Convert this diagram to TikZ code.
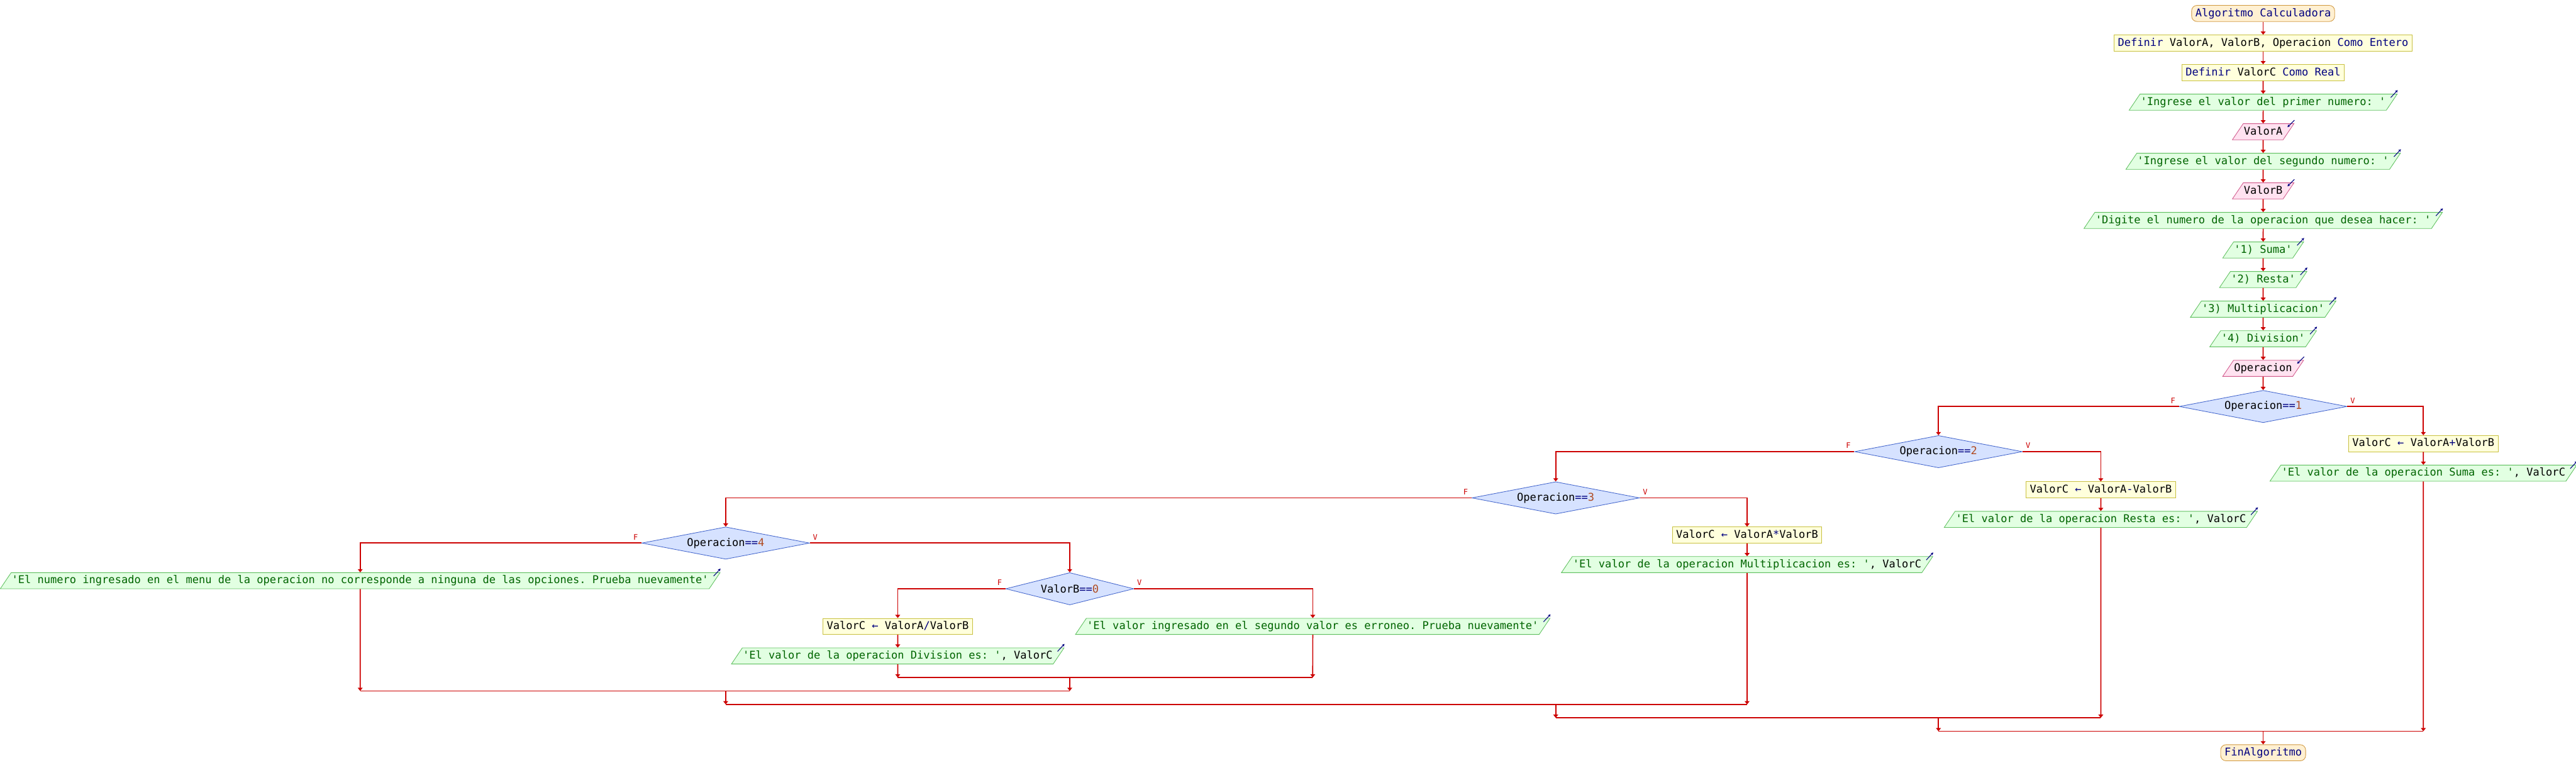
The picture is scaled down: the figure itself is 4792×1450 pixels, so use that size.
\documentclass[tikz,border=0pt]{standalone}
\usepackage{fontspec}
\setmonofont{DejaVu Sans Mono}
\usetikzlibrary{shapes.geometric,arrows.meta}
\definecolor{flujo}{HTML}{CC0000}
\definecolor{kwazul}{HTML}{000080}
\definecolor{strverde}{HTML}{006400}
\definecolor{numcafe}{HTML}{B04A20}
\definecolor{termfondo}{HTML}{FFF0D2}
\definecolor{termborde}{HTML}{D09840}
\definecolor{procfondo}{HTML}{FFFFDC}
\definecolor{procborde}{HTML}{C8C040}
\definecolor{salfondo}{HTML}{E2FFE2}
\definecolor{salborde}{HTML}{60C060}
\definecolor{entfondo}{HTML}{FFE2F0}
\definecolor{entborde}{HTML}{D05A8C}
\definecolor{decfondo}{HTML}{D6E2FF}
\definecolor{decborde}{HTML}{4466CC}
\newcommand{\pkw}[1]{\textcolor{kwazul}{#1}}
\newcommand{\pstr}[1]{\textcolor{strverde}{#1}}
\newcommand{\pnum}[1]{\textcolor{numcafe}{#1}}
\begin{document}
\begin{tikzpicture}[x=0.01cm,y=-0.01cm,
	every node/.style={font=\ttfamily\fontsize{5.67}{6.8}\selectfont},
	caja/.style={line width=0.01cm,text height=0.15cm,text depth=0.04cm,inner ysep=0.055cm},
	term/.style={caja,draw=termborde,fill=termfondo,rounded corners=0.1cm,inner xsep=0.07cm,text=kwazul},
	proc/.style={caja,draw=procborde,fill=procfondo,inner xsep=0.07cm},
	salida/.style={caja,trapezium,trapezium left angle=56,trapezium right angle=124,draw=salborde,fill=salfondo,inner xsep=0.01cm},
	entrada/.style={salida,draw=entborde,fill=entfondo},
	decision/.style={diamond,aspect=6,line width=0.01cm,draw=decborde,fill=decfondo,minimum height=0.6cm,inner sep=0pt},
	flecha/.style={draw=flujo,line width=0.02cm,-{Triangle[length=0.06cm,width=0.09cm]}},
	linea/.style={draw=flujo,line width=0.02cm},
	marca/.style={draw=kwazul,line width=0.012cm,-{Stealth[length=0.05cm,width=0.05cm]}},
	etiq/.style={font=\ttfamily\fontsize{4}{5}\selectfont,text=flujo,inner sep=0pt}]
	\useasboundingbox (0,0) rectangle (4792,1450);
	% secuencia principal
	\node[term] (inicio) at (4210,25) {Algoritmo Calculadora};
	\node[proc] (defab) at (4210,80) {\pkw{Definir} ValorA, ValorB, Operacion \pkw{Como Entero}};
	\node[proc] (defc) at (4210,135) {\pkw{Definir} ValorC \pkw{Como Real}};
	\node[salida] (msga) at (4210,190) {\pstr{'Ingrese el valor del primer numero: '}};
	\node[entrada] (leea) at (4210,245) {ValorA};
	\node[salida] (msgb) at (4210,300) {\pstr{'Ingrese el valor del segundo numero: '}};
	\node[entrada] (leeb) at (4210,355) {ValorB};
	\node[salida] (msgop) at (4210,410) {\pstr{'Digite el numero de la operacion que desea hacer: '}};
	\node[salida] (menu1) at (4210,465) {\pstr{'1) Suma'}};
	\node[salida] (menu2) at (4210,520) {\pstr{'2) Resta'}};
	\node[salida] (menu3) at (4210,575) {\pstr{'3) Multiplicacion'}};
	\node[salida] (menu4) at (4210,630) {\pstr{'4) Division'}};
	\node[entrada] (leeop) at (4210,685) {Operacion};
	% decisiones
	\node[decision,minimum width=3.12cm] (op1) at (4210,756) {Operacion\pkw{==}\pnum{1}};
	\node[proc] (suma) at (4508,825) {ValorC \pkw{←} ValorA\pkw{+}ValorB};
	\node[salida] (msgsuma) at (4508,880) {\pstr{'El valor de la operacion Suma es: '}, ValorC};
	\node[decision,minimum width=3.12cm] (op2) at (3606,840) {Operacion\pkw{==}\pnum{2}};
	\node[proc] (resta) at (3908,911) {ValorC \pkw{←} ValorA\pkw{-}ValorB};
	\node[salida] (msgresta) at (3908,966) {\pstr{'El valor de la operacion Resta es: '}, ValorC};
	\node[decision,minimum width=3.12cm] (op3) at (2894,926) {Operacion\pkw{==}\pnum{3}};
	\node[proc] (mult) at (3250,995) {ValorC \pkw{←} ValorA\pkw{*}ValorB};
	\node[salida] (msgmult) at (3250,1050) {\pstr{'El valor de la operacion Multiplicacion es: '}, ValorC};
	\node[decision,minimum width=3.12cm] (op4) at (1350,1010) {Operacion\pkw{==}\pnum{4}};
	\node[salida] (msgerr) at (670,1080) {\pstr{'El numero ingresado en el menu de la operacion no corresponde a ninguna de las opciones. Prueba nuevamente'}};
	\node[decision,minimum width=2.38cm] (cero) at (1990,1095) {ValorB\pkw{==}\pnum{0}};
	\node[proc] (divi) at (1670,1165) {ValorC \pkw{←} ValorA\pkw{/}ValorB};
	\node[salida] (msgdiv) at (1670,1220) {\pstr{'El valor de la operacion Division es: '}, ValorC};
	\node[salida] (msgcero) at (2442,1165) {\pstr{'El valor ingresado en el segundo valor es erroneo. Prueba nuevamente'}};
	\node[term] (fin) at (4210,1400) {FinAlgoritmo};
	% etiquetas F / V
	\foreach \d in {op1,op2,op3,op4,cero}{
		\node[etiq] (f\d) at ([shift={(-11,-11)}]\d.west) {F};
		\node[etiq] (v\d) at ([shift={(10,-11)}]\d.east) {V};
	}
	% marcas de entrada y salida
	\foreach \n in {msga,msgb,msgop,menu1,menu2,menu3,menu4,msgsuma,msgresta,msgmult,msgerr,msgdiv,msgcero}
		\draw[marca] ([shift={(-13,7)}]\n.top right corner) -- ++(13,-14);
	\foreach \n in {leea,leeb,leeop}
		\draw[marca] ([shift={(0,-6)}]\n.top right corner) -- ++(-13,13);
	% flujo
	\foreach \a/\b in {inicio/defab,defab/defc,defc/msga,msga/leea,leea/msgb,msgb/leeb,leeb/msgop,msgop/menu1,menu1/menu2,menu2/menu3,menu3/menu4,menu4/leeop,leeop/op1,suma/msgsuma,resta/msgresta,mult/msgmult,divi/msgdiv}
		\draw[flecha] (\a) -- (\b);
	\draw[flecha] (op1.west) -| (op2.north);
	\draw[flecha] (op1.east) -| (suma.north);
	\draw[flecha] (op2.west) -| (op3.north);
	\draw[flecha] (op2.east) -| (resta.north);
	\draw[flecha] (op3.west) -| (op4.north);
	\draw[flecha] (op3.east) -| (mult.north);
	\draw[flecha] (op4.west) -| (msgerr.north);
	\draw[flecha] (op4.east) -| (cero.north);
	\draw[flecha] (cero.west) -| (divi.north);
	\draw[flecha] (cero.east) -| (msgcero.north);
	% uniones
	\coordinate (j5l) at (1670,1260); \coordinate (j5r) at (2442,1260);
	\coordinate (j4l) at (670,1285); \coordinate (j4r) at (1990,1285);
	\coordinate (j3l) at (1350,1310); \coordinate (j3r) at (3250,1310);
	\coordinate (j2l) at (2894,1335); \coordinate (j2r) at (3908,1335);
	\coordinate (j1l) at (3606,1360); \coordinate (j1r) at (4508,1360);
	\draw[flecha] (msgdiv) -- (j5l);
	\draw[flecha] (msgcero) -- (j5r);
	\draw[linea] (j5l) -- (j5r);
	\draw[flecha] (cero |- j5l) -- (j4r);
	\draw[flecha] (msgerr) -- (j4l);
	\draw[linea] (j4l) -- (j4r);
	\draw[flecha] (op4 |- j4l) -- (j3l);
	\draw[flecha] (msgmult) -- (j3r);
	\draw[linea] (j3l) -- (j3r);
	\draw[flecha] (op3 |- j3l) -- (j2l);
	\draw[flecha] (msgresta) -- (j2r);
	\draw[linea] (j2l) -- (j2r);
	\draw[flecha] (op2 |- j2l) -- (j1l);
	\draw[flecha] (msgsuma) -- (j1r);
	\draw[linea] (j1l) -- (j1r);
	\draw[flecha] (op1 |- j1l) -- (fin);
\end{tikzpicture}
\end{document}
